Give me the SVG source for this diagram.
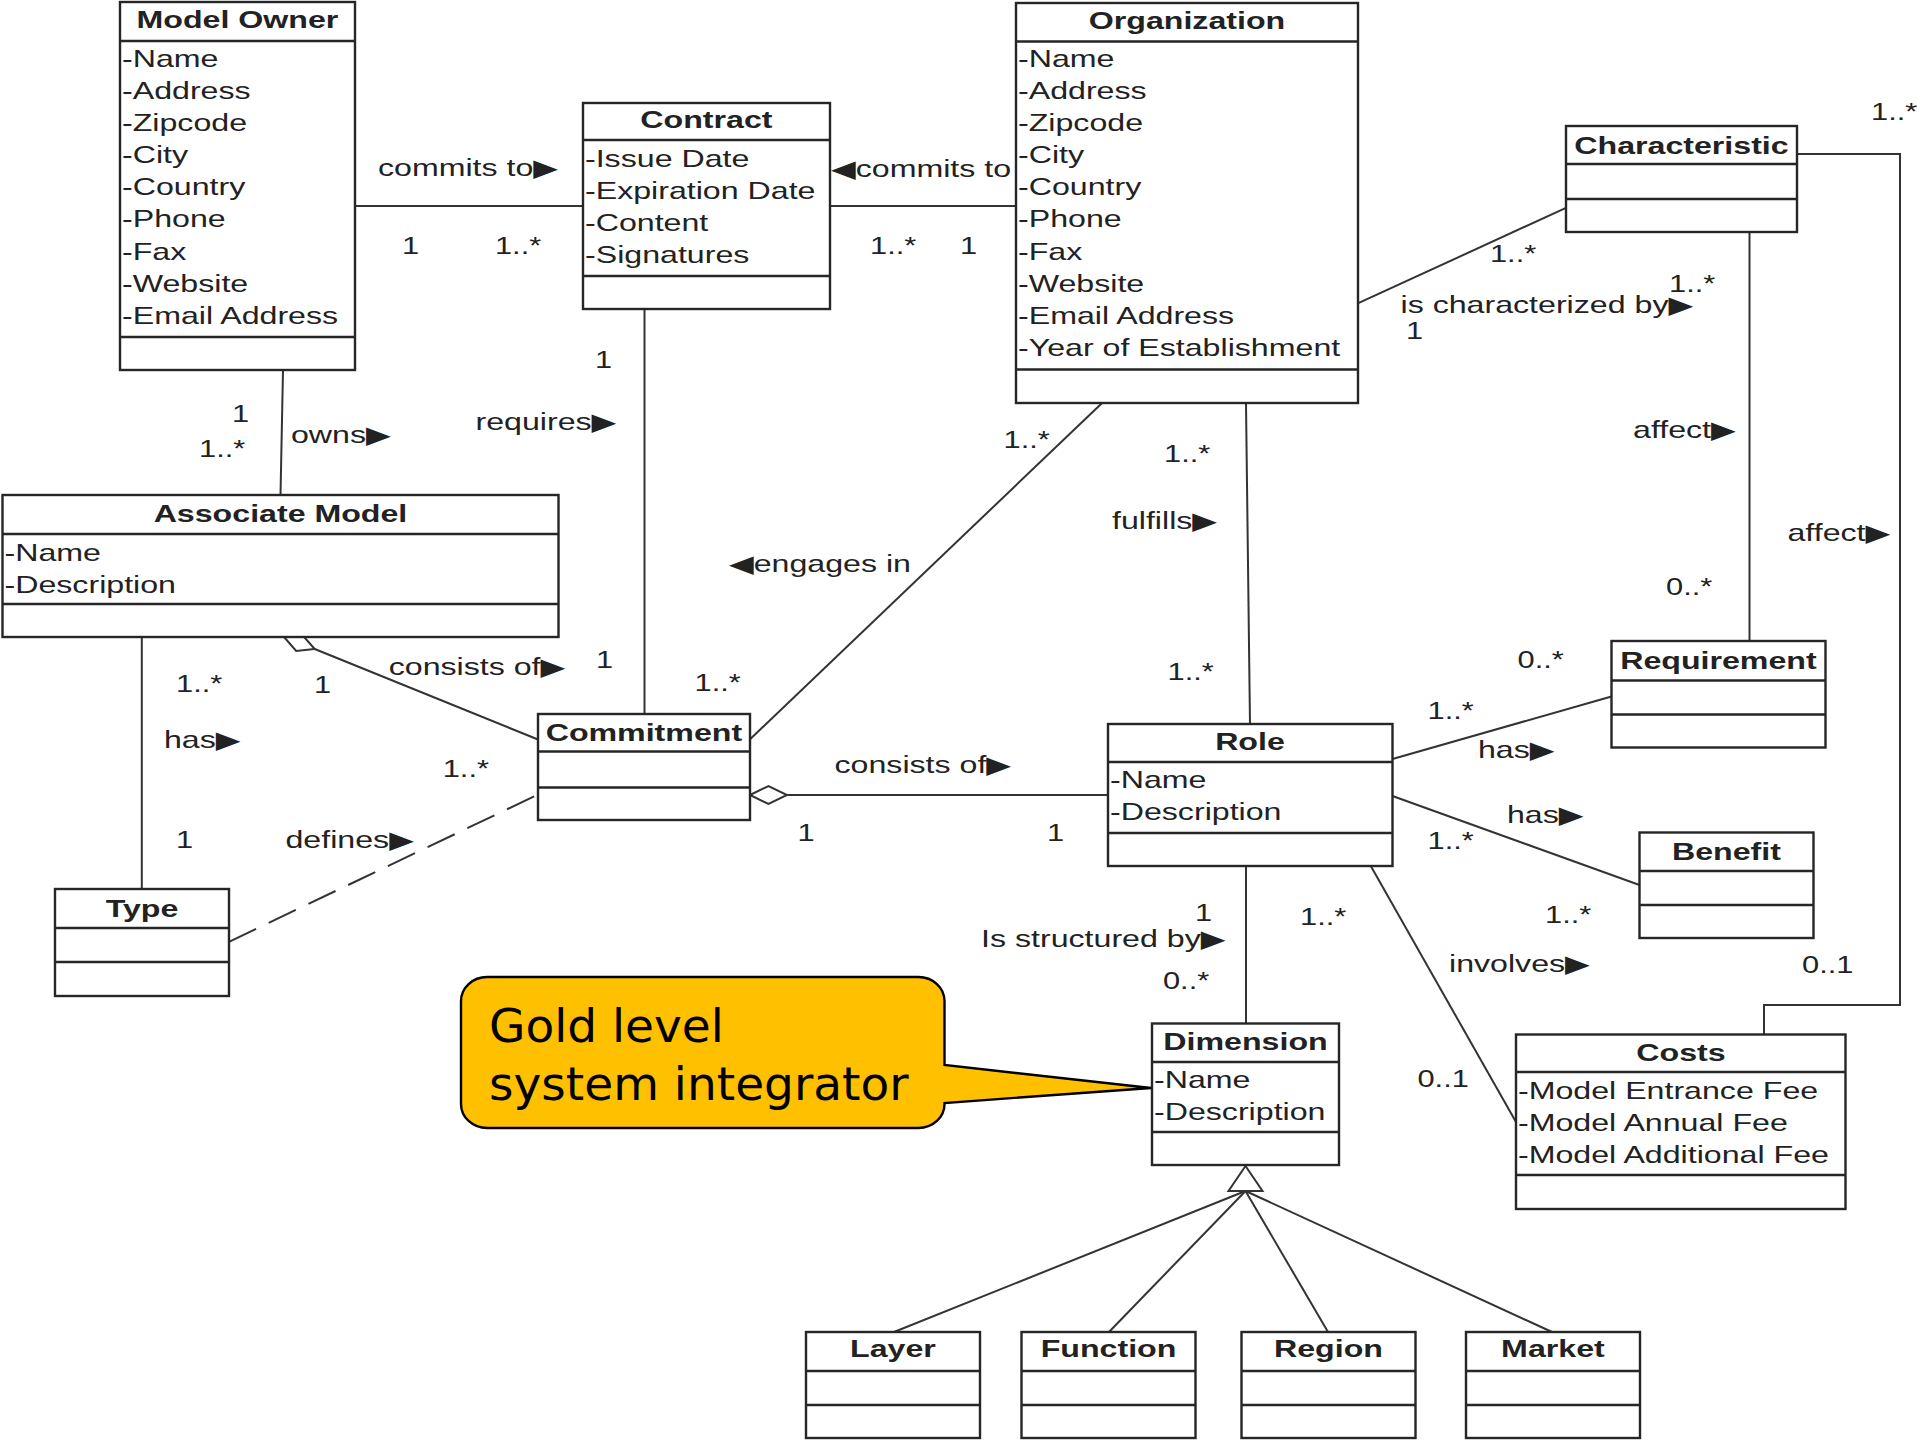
<svg xmlns="http://www.w3.org/2000/svg" width="1917" height="1440" viewBox="0 0 1917 1440">
<style>
.box rect{fill:#fff;stroke:#262626;stroke-width:2.4}
.box path{fill:none;stroke:#262626;stroke-width:2.4}
.cn line,.cn polyline{stroke:#333;stroke-width:2;fill:none}
.cn polygon{fill:#fff;stroke:#333;stroke-width:2}
.cn .dash{stroke-dasharray:30 14}
text{font-family:"Liberation Sans",Arial,"DejaVu Sans",sans-serif;font-size:24px;fill:#222;transform-box:fill-box;transform-origin:0 50%;transform:scaleX(1.34)}
text.t{font-weight:bold;text-anchor:middle;transform-origin:50% 50%}
text.m{font-size:23px}
text.c{font-family:"DejaVu Sans",sans-serif;font-size:47px;fill:#000;transform:none}
.callout path{fill:#FFC000;stroke:#000;stroke-width:2.4}
</style>

<g id="connectors" class="cn">
  <line x1="354.6" y1="206" x2="583" y2="206"/>
  <line x1="830" y1="206" x2="1016" y2="206"/>
  <line x1="283" y1="370" x2="280.5" y2="495"/>
  <line x1="644.5" y1="309" x2="644.5" y2="714"/>
  <line x1="1101.6" y1="403.5" x2="749.5" y2="739.7"/>
  <line x1="1246" y1="403.5" x2="1250" y2="724"/>
  <line x1="1358.3" y1="303.2" x2="1566" y2="207.8"/>
  <line x1="1749.5" y1="232" x2="1749.5" y2="641"/>
  <polyline points="1797,154 1900,154 1900,1005 1764,1005 1764,1034.5"/>
  <line x1="141.8" y1="637" x2="141.8" y2="889"/>
  <line x1="314.7" y1="649" x2="538" y2="739.5"/>
  <polygon points="284,637 302.4,635.1 314.7,649 296.2,650.9"/>
  <line class="dash" x1="229" y1="941.8" x2="538" y2="794.5"/>
  <line x1="787" y1="795" x2="1108" y2="795"/>
  <polygon points="750,795 768.5,786 787,795 768.5,804"/>
  <line x1="1392.5" y1="759" x2="1611.5" y2="696.5"/>
  <line x1="1392.5" y1="796" x2="1639.5" y2="885"/>
  <line x1="1370.5" y1="865.6" x2="1516" y2="1122"/>
  <line x1="1246" y1="866" x2="1246" y2="1023.5"/>
  <line x1="1245.5" y1="1191" x2="894" y2="1332"/>
  <line x1="1245.5" y1="1191" x2="1109" y2="1332"/>
  <line x1="1245.5" y1="1191" x2="1328" y2="1332"/>
  <line x1="1245.5" y1="1191" x2="1552" y2="1332"/>
  <polygon points="1245.5,1166 1228.5,1191 1262.5,1191"/>

  <text x="378" y="176">commits to▶</text>
  <text class="m" x="402" y="254">1</text>
  <text class="m" x="495" y="254">1..*</text>
  <text x="831" y="177">◀commits to</text>
  <text class="m" x="870" y="254">1..*</text>
  <text class="m" x="960" y="254">1</text>
  <text x="291" y="443">owns▶</text>
  <text class="m" x="232" y="422">1</text>
  <text class="m" x="199" y="457.5">1..*</text>
  <text x="475.5" y="430.5">requires▶</text>
  <text class="m" x="595" y="368">1</text>
  <text class="m" x="596" y="668">1</text>
  <text x="729" y="572">◀engages in</text>
  <text class="m" x="1003.5" y="448">1..*</text>
  <text class="m" x="694.5" y="691">1..*</text>
  <text class="m" x="1164" y="462.5">1..*</text>
  <text x="1112" y="529.5">fulfills▶</text>
  <text class="m" x="1167.5" y="680.5">1..*</text>
  <text x="1400.5" y="313">is characterized by▶</text>
  <text class="m" x="1490" y="262">1..*</text>
  <text class="m" x="1406" y="339">1</text>
  <text class="m" x="1669" y="292.5">1..*</text>
  <text x="1633" y="438">affect▶</text>
  <text class="m" x="1666" y="595">0..*</text>
  <text class="m" x="1871" y="120">1..*</text>
  <text x="1787.5" y="541.5">affect▶</text>
  <text class="m" x="1802" y="973.5">0..1</text>
  <text x="164" y="748">has▶</text>
  <text class="m" x="176" y="692.5">1..*</text>
  <text class="m" x="176" y="848">1</text>
  <text x="388.7" y="675">consists of▶</text>
  <text class="m" x="314" y="693">1</text>
  <text class="m" x="442.7" y="777.5">1..*</text>
  <text x="285.5" y="848">defines▶</text>
  <text x="834.5" y="773.5">consists of▶</text>
  <text class="m" x="797.5" y="841">1</text>
  <text class="m" x="1047" y="841">1</text>
  <text x="1478" y="758.5">has▶</text>
  <text class="m" x="1427.5" y="719">1..*</text>
  <text class="m" x="1517.5" y="668">0..*</text>
  <text x="1507" y="823.5">has▶</text>
  <text class="m" x="1427.5" y="849">1..*</text>
  <text class="m" x="1545" y="923">1..*</text>
  <text x="1449" y="972.5">involves▶</text>
  <text class="m" x="1300" y="925.5">1..*</text>
  <text class="m" x="1417.5" y="1087.5">0..1</text>
  <text x="981" y="947">Is structured by▶</text>
  <text class="m" x="1195" y="921">1</text>
  <text class="m" x="1163" y="989">0..*</text>
</g>

<g id="model-owner" class="box">
  <rect x="120" y="2" width="235" height="368"/>
  <path d="M120 41H355M120 337H355"/>
  <text class="t" x="237.5" y="28">Model Owner</text>
  <text x="122" y="67">-Name</text>
  <text x="122" y="99.1">-Address</text>
  <text x="122" y="131.2">-Zipcode</text>
  <text x="122" y="163.3">-City</text>
  <text x="122" y="195.4">-Country</text>
  <text x="122" y="227.5">-Phone</text>
  <text x="122" y="259.6">-Fax</text>
  <text x="122" y="291.7">-Website</text>
  <text x="122" y="323.8">-Email Address</text>
</g>

<g id="contract" class="box">
  <rect x="583" y="103" width="247" height="206"/>
  <path d="M583 140H830M583 276H830"/>
  <text class="t" x="706.5" y="128">Contract</text>
  <text x="585" y="167">-Issue Date</text>
  <text x="585" y="199">-Expiration Date</text>
  <text x="585" y="231">-Content</text>
  <text x="585" y="263">-Signatures</text>
</g>

<g id="organization" class="box">
  <rect x="1016" y="3" width="342" height="400"/>
  <path d="M1016 41.5H1358M1016 369.5H1358"/>
  <text class="t" x="1187" y="29">Organization</text>
  <text x="1018" y="67">-Name</text>
  <text x="1018" y="99.1">-Address</text>
  <text x="1018" y="131.2">-Zipcode</text>
  <text x="1018" y="163.3">-City</text>
  <text x="1018" y="195.4">-Country</text>
  <text x="1018" y="227.5">-Phone</text>
  <text x="1018" y="259.6">-Fax</text>
  <text x="1018" y="291.7">-Website</text>
  <text x="1018" y="323.8">-Email Address</text>
  <text x="1018" y="355.9">-Year of Establishment</text>
</g>

<g id="characteristic" class="box">
  <rect x="1566" y="126" width="231" height="106"/>
  <path d="M1566 164H1797M1566 199H1797"/>
  <text class="t" x="1681.5" y="154">Characteristic</text>
</g>

<g id="associate-model" class="box">
  <rect x="2.5" y="495" width="556" height="142"/>
  <path d="M2.5 534H558.5M2.5 604H558.5"/>
  <text class="t" x="280.5" y="522">Associate Model</text>
  <text x="4.5" y="561">-Name</text>
  <text x="4.5" y="593">-Description</text>
</g>

<g id="commitment" class="box">
  <rect x="538" y="714" width="212" height="106"/>
  <path d="M538 751.5H750M538 787.5H750"/>
  <text class="t" x="644" y="741">Commitment</text>
</g>

<g id="type" class="box">
  <rect x="55" y="889" width="174" height="107"/>
  <path d="M55 928H229M55 962H229"/>
  <text class="t" x="142" y="917">Type</text>
</g>

<g id="role" class="box">
  <rect x="1108" y="724" width="284.5" height="142"/>
  <path d="M1108 762H1392.5M1108 833H1392.5"/>
  <text class="t" x="1250" y="750">Role</text>
  <text x="1110" y="788.5">-Name</text>
  <text x="1110" y="820.5">-Description</text>
</g>

<g id="requirement" class="box">
  <rect x="1611.5" y="641" width="214" height="106.5"/>
  <path d="M1611.5 680.5H1825.5M1611.5 714.5H1825.5"/>
  <text class="t" x="1718.5" y="669">Requirement</text>
</g>

<g id="benefit" class="box">
  <rect x="1639.5" y="832.5" width="174" height="105.5"/>
  <path d="M1639.5 871H1813.5M1639.5 905H1813.5"/>
  <text class="t" x="1726.5" y="860">Benefit</text>
</g>

<g id="costs" class="box">
  <rect x="1516" y="1034.5" width="329.5" height="174.5"/>
  <path d="M1516 1072H1845.5M1516 1175H1845.5"/>
  <text class="t" x="1681" y="1061">Costs</text>
  <text x="1518" y="1099">-Model Entrance Fee</text>
  <text x="1518" y="1131.2">-Model Annual Fee</text>
  <text x="1518" y="1163.4">-Model Additional Fee</text>
</g>

<g id="dimension" class="box">
  <rect x="1152" y="1023.5" width="187" height="141.5"/>
  <path d="M1152 1062H1339M1152 1132H1339"/>
  <text class="t" x="1245.5" y="1050">Dimension</text>
  <text x="1154" y="1088.5">-Name</text>
  <text x="1154" y="1120.5">-Description</text>
</g>

<g id="layer" class="box">
  <rect x="806" y="1332" width="174" height="106"/>
  <path d="M806 1371H980M806 1405H980"/>
  <text class="t" x="893" y="1357">Layer</text>
</g>

<g id="function" class="box">
  <rect x="1021.5" y="1332" width="174" height="106"/>
  <path d="M1021.5 1371H1195.5M1021.5 1405H1195.5"/>
  <text class="t" x="1108.5" y="1357">Function</text>
</g>

<g id="region" class="box">
  <rect x="1241.5" y="1332" width="174" height="106"/>
  <path d="M1241.5 1371H1415.5M1241.5 1405H1415.5"/>
  <text class="t" x="1328.5" y="1357">Region</text>
</g>

<g id="market" class="box">
  <rect x="1466" y="1332" width="174" height="106"/>
  <path d="M1466 1371H1640M1466 1405H1640"/>
  <text class="t" x="1553" y="1357">Market</text>
</g>

<g id="callout" class="callout">
  <path d="M487 977H918.5A26 24 0 0 1 944.5 1001V1065L1151 1088L944.5 1103V1104A26 24 0 0 1 918.5 1128H487A26 24 0 0 1 461 1104V1001A26 24 0 0 1 487 977Z"/>
  <text class="c" x="489" y="1042">Gold level</text>
  <text class="c" x="489" y="1100">system integrator</text>
</g>
</svg>
